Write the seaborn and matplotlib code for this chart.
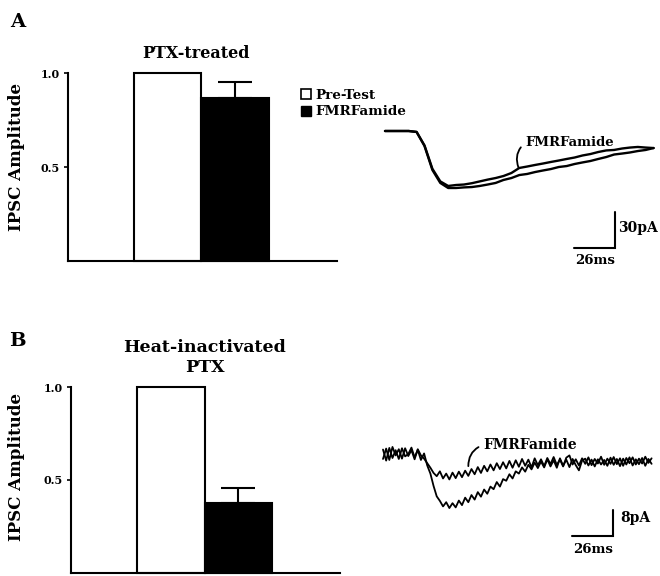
import numpy as np
import pandas as pd
import matplotlib
matplotlib.use("Agg")
import matplotlib.pyplot as plt
from matplotlib.patches import Patch
import seaborn as sns

# Bar data (normalised IPSC amplitude)
conditions = ["Pre-Test", "FMRFamide"]
bar_colors = ["white", "black"]
amp_ptx = [1.0, 0.867]
err_ptx = 0.083
amp_heat = [1.0, 0.376]
err_heat = 0.081

# Traces, panel A (pA, one sample every 5 ms)
dt_a = 5
pretest_a = [0, 0, 0, 0, -0.8, -12.5, -32.5, -43.3, -47.5, -47.5,
             -47.0, -46.7, -45.8, -44.6, -43.3, -40.8, -39.2, -36.7, -35.8, -34.2,
             -32.9, -31.7, -30.0, -29.2, -27.5, -26.2, -25.0, -23.3, -21.7, -19.6,
             -18.8, -17.9, -16.7, -15.8, -14.2]
fmrf_a = [0, 0, 0, 0, -0.8, -12.0, -31.5, -42.0, -45.8, -45.0,
          -44.6, -43.5, -42.0, -40.5, -39.2, -37.5, -35.0, -30.8, -29.6, -28.3,
          -27.1, -25.8, -24.6, -23.3, -22.1, -20.4, -19.2, -17.5, -16.2, -15.8,
          -14.6, -13.8, -13.3, -13.8, -14.2]

# Traces, panel B (pA, one sample every 2 ms)
dt_b = 2
pretest_b = [2.6, -0.8, 3.1, 0.0, 2.4, -0.3, 3.0, 0.5, 1.2, 3.2,
             0.2, 2.5, -0.6, 1.4, -2.3, -4.8, -8.6, -11.8, -13.2, -14.9,
             -13.6, -15.4, -13.9, -15.2, -13.1, -14.5, -12.2, -13.6, -11.4, -12.8,
             -10.5, -11.9, -9.7, -11.0, -8.8, -9.6, -7.4, -8.8, -6.5, -7.0,
             -5.0, -6.3, -4.1, -4.8, -2.9, -4.2, -2.1, -3.5, -1.4, -3.1,
             -1.1, -2.9, -0.4, -2.6, -0.7, -3.0, -0.1, -2.4, -0.5, -2.8,
             -0.3, -2.2, -3.8, -0.8, -0.2, -2.3, -0.5, -2.6, -0.4, -2.0,
             -0.6, -2.4, 0.1, -2.1, -0.3, -2.5, -0.2, -2.0, 0.2, -2.3,
             -0.4, -1.9, 0.0, -2.4, -0.3, -1.8]
fmrf_b = [-0.3, 2.9, -0.6, 3.4, 0.8, 2.7, -0.2, 3.0, 0.6, 2.4,
          -0.4, 2.7, 0.8, -0.2, -1.6, -3.0, -4.6, -5.6, -4.1, -6.3,
          -4.8, -6.6, -4.5, -6.2, -4.2, -5.9, -3.9, -5.5, -3.4, -5.0,
          -2.8, -4.6, -2.4, -4.1, -2.0, -3.8, -1.6, -3.4, -1.3, -3.2,
          -0.9, -3.0, -0.7, -2.7, -0.3, -2.4, -0.5, -2.9, -0.1, -2.2,
          -0.4, -2.5, 0.0, -1.9, 0.3, -2.1, -0.5, -2.6, 0.1, 0.8,
          -2.0, -0.4, -2.3, -0.1, -1.8, 0.2, -2.2, -0.3, -1.7, 0.4,
          -2.1, -0.2, -1.8, 0.3, -1.9, -0.1, -2.4, 0.0, -1.6, 0.2,
          -2.0, -0.2, -1.7, 0.4, -1.5, -0.1]

sns.set_style("ticks")
plt.rcParams["font.family"] = ["DejaVu Serif"]
plt.rcParams["font.weight"] = "bold"
plt.rcParams["axes.linewidth"] = 1.5
for key in ["text.color", "axes.labelcolor", "xtick.color", "ytick.color", "axes.edgecolor"]:
    plt.rcParams[key] = "black"

W, H = 660, 576
fig = plt.figure(figsize=(W / 100, H / 100), dpi=100)


def px_axes(x0, y0, x1, y1):
    return fig.add_axes([x0 / W, 1 - y1 / H, (x1 - x0) / W, (y1 - y0) / H])


def ftext(x, y, s, **kw):
    fig.text(x / W, 1 - y / H, s, **kw)


def bar_panel(box, xlim, amps, err):
    ax = px_axes(*box)
    df = pd.DataFrame({"cond": conditions, "amp": amps})
    sns.barplot(data=df, x="cond", y="amp", hue="cond", palette=bar_colors,
                edgecolor="black", linewidth=1.5, width=1.0, legend=False, ax=ax)
    for p in ax.patches:
        p.set_clip_on(False)
    ax.errorbar(1, amps[1], yerr=[[0], [err]], fmt="none", ecolor="black",
                elinewidth=1.5, capsize=12, capthick=1.5, clip_on=False)
    ax.set_xlim(xlim)
    ax.set_ylim(0, 1)
    ax.set_yticks([0.5, 1.0])
    ax.set_yticklabels(["0.5", "1.0"])
    ax.set_xticks([])
    ax.set_xlabel("")
    ax.set_ylabel("")
    ax.tick_params(axis="y", length=3, width=1.2, labelsize=8, pad=3)
    sns.despine(ax=ax)
    return ax


def trace_panel(box, origin, sx, sy, dt, traces, lw):
    ax = px_axes(*box)
    for vals in traces:
        t = np.arange(len(vals)) * dt
        sns.lineplot(x=t, y=vals, ax=ax, color="black", lw=lw)
    ox, oy = origin
    ax.set_xlim((box[0] - ox) / sx, (box[2] - ox) / sx)
    ax.set_ylim((oy - box[3]) / sy, (oy - box[1]) / sy)
    ax.axis("off")
    return ax


def scale_bar(ax, corner, ms, pa, pa_label, pa_off, ms_off):
    cx, cy = corner
    ax.plot([cx - ms, cx, cx], [cy, cy, cy + pa], color="black", lw=1.5,
            solid_joinstyle="miter")
    ax.annotate(pa_label, xy=(cx, cy + pa), xytext=pa_off, textcoords="offset points",
                ha="left", va="center", fontsize=10)
    ax.annotate(f"{ms}ms", xy=(cx - ms, cy), xytext=ms_off, textcoords="offset points",
                ha="left", va="center", fontsize=9.5)


# ---- Panel A ----
bar_panel((68, 73, 337, 261), (-1.474, 2.511), amp_ptx, err_ptx)
ftext(18, 22, "A", fontsize=14, ha="center", va="center")
ftext(196, 53, "PTX-treated", fontsize=11.5, ha="center", va="center")
ftext(17, 157, "IPSC Amplitude", fontsize=12, rotation=90, ha="center", va="center")

sx, sy_a = 1.58, 1.2
ax_ta = trace_panel((380, 90, 660, 290), (385, 131), sx, sy_a, dt_a, [pretest_a, fmrf_a], 1.7)
scale_bar(ax_ta, ((615 - 385) / sx, (131 - 248) / sy_a), 26, 30, "30pA", (2, -11.5), (0.7, -9))
ax_ta.annotate("FMRFamide", xy=(84.5, -30.5), xytext=(88.6, -10), textcoords="data",
               ha="left", va="center", fontsize=9.5,
               arrowprops=dict(arrowstyle="-", connectionstyle="arc3,rad=0.35",
                               color="black", lw=1.3, shrinkA=1, shrinkB=0, relpos=(0, 0.5)))

fig.legend(handles=[Patch(facecolor="white", edgecolor="black", lw=1.2, label="Pre-Test"),
                    Patch(facecolor="black", edgecolor="black", label="FMRFamide")],
           loc="upper left", bbox_to_anchor=(301 / W, 1 - 89 / H), frameon=False,
           fontsize=9.7, handlelength=0.75, handleheight=0.75, handletextpad=0.35,
           labelspacing=0.25, borderpad=0, borderaxespad=0)

# ---- Panel B ----
bar_panel((71, 387, 340, 573), (-1.481, 2.504), amp_heat, err_heat)
ftext(17, 341, "B", fontsize=14, ha="center", va="center")
ftext(205, 357.5, "Heat-inactivated\nPTX", fontsize=12.5, ha="center", va="center",
      multialignment="center")
ftext(17, 467, "IPSC Amplitude", fontsize=12, rotation=90, ha="center", va="center")

sy_b = 3.25
ax_tb = trace_panel((375, 400, 660, 576), (383, 458), sx, sy_b, dt_b, [pretest_b, fmrf_b], 1.3)
scale_bar(ax_tb, ((613 - 383) / sx, (458 - 536) / sy_b), 26, 8, "8pA", (5, -6), (0.7, -10))
ax_tb.annotate("FMRFamide", xy=(54, -2.5), xytext=(63.3, 4), textcoords="data",
               ha="left", va="center", fontsize=10,
               arrowprops=dict(arrowstyle="-", connectionstyle="arc3,rad=0.35",
                               color="black", lw=1.3, shrinkA=1, shrinkB=0, relpos=(0, 0.5)))

fig.savefig("out.png", dpi=100)
